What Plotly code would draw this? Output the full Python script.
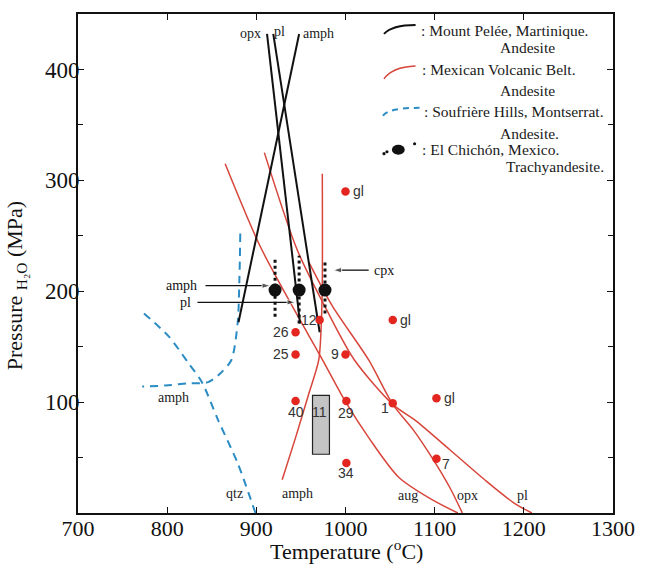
import plotly.graph_objects as go

# ---------------- data ----------------
# Mount Pelée, Martinique (black)
pelee_opx_T = [912, 949]
pelee_opx_P = [432, 171]
pelee_pl_T = [919, 971]
pelee_pl_P = [432, 163]
pelee_amph_T = [948, 880]
pelee_amph_P = [432, 172]

# Mexican Volcanic Belt (red)
mvb_aug_T = [865, 904, 940, 973, 1001, 1026, 1060, 1097, 1126]
mvb_aug_P = [315, 241, 187, 140, 99, 68, 32, 12, 0]
mvb_pl_T = [909, 946, 979, 1010, 1053, 1079, 1117, 1156, 1189, 1209]
mvb_pl_P = [325, 237, 183, 138, 98, 83, 57, 30, 9, 0]
mvb_opx_T = [959, 985, 1026, 1053, 1076, 1097, 1117, 1131]
mvb_opx_P = [226, 187, 138, 98, 75, 50, 23, 0]
mvb_amph_T = [974, 974, 973, 970, 959, 944, 929]
mvb_amph_P = [306, 210, 174, 138, 108, 68, 30]

# Soufrière Hills, Montserrat (blue dashed)
sh_amph_T = [882, 881, 879, 872, 861, 846, 824, 798, 772]
sh_amph_P = [252, 210, 171, 138, 127, 118, 117, 115, 114]
sh_qtz_T = [774, 802, 824, 839, 857, 879, 899]
sh_qtz_P = [180, 159, 135, 118, 84, 45, 0]

# experimental runs (red dots)
exp_T = [1000, 1053, 1102, 971, 944, 944, 1000, 944, 971, 1001, 1053, 1102, 1001]
exp_P = [290, 174, 103.5, 174, 163, 143, 143, 101, 101, 101, 99, 49, 45]
exp_lab = ["gl", "gl", "gl", "12", "26", "25", "9", "40", "11", "29", "1", "7", "34"]

# El Chichón (black dots with dotted bars)
ec_T = [921, 948, 977]
ec_P = [201, 201, 201]
ec_P_low = [177, 171, 180]
ec_P_high = [231, 232, 228]

# grey box
box_T = [963, 982]
box_P = [53, 106]

# arrows to the El Chichón points
arrow_lab = ["amph", "pl", "cpx"]
arrow_tail_T = [843, 834, 1026]
arrow_head_T = [916, 944, 986]
arrow_P = [205, 190, 219]
arrow_text_T = [816, 820, 1043]

# curve labels
curve_lab = ["opx", "pl", "amph", "qtz", "amph", "aug", "opx", "pl", "amph"]
curve_lab_T = [893, 926, 970, 876, 946, 1070, 1137, 1198, 807]
curve_lab_P = [432, 434, 432, 18, 18, 16, 16, 16, 104]

x_ticks = [700, 800, 900, 1000, 1100, 1200, 1300]
y_ticks = [100, 200, 300, 400]

# ---------------- styles ----------------
BLACK = "#111111"
RED = "#d8453b"
DOT_RED = "#e3261f"
BLUE = "#2b8cc4"
SERIF = "Liberation Serif, Times New Roman, serif"
SANS = "Liberation Sans, Arial, sans-serif"

fig = go.Figure()

def line(T, P, color, width, dash=None, shape="linear"):
    fig.add_trace(go.Scatter(x=T, y=P, mode="lines",
                             line=dict(color=color, width=width, dash=dash, shape=shape,
                                       smoothing=0.8),
                             hoverinfo="skip"))

for T, P in [(sh_amph_T, sh_amph_P), (sh_qtz_T, sh_qtz_P)]:
    line(T, P, BLUE, 2, dash="8px,6px", shape="spline")
for T, P in [(mvb_aug_T, mvb_aug_P), (mvb_pl_T, mvb_pl_P),
             (mvb_opx_T, mvb_opx_P), (mvb_amph_T, mvb_amph_P)]:
    line(T, P, RED, 1.5, shape="spline")
for T, P in [(pelee_opx_T, pelee_opx_P), (pelee_pl_T, pelee_pl_P),
             (pelee_amph_T, pelee_amph_P)]:
    line(T, P, BLACK, 2)

# grey box
fig.add_shape(type="rect", xref="x", yref="y", x0=box_T[0], x1=box_T[1],
              y0=box_P[0], y1=box_P[1], fillcolor="#c4c4c4",
              line=dict(color="#222222", width=1.2), layer="above")

# red dots
fig.add_trace(go.Scatter(x=exp_T, y=exp_P, mode="markers",
                         marker=dict(color=DOT_RED, size=8.5, line=dict(width=0)),
                         hoverinfo="skip"))

# El Chichón bars + dots
for t, lo, hi in zip(ec_T, ec_P_low, ec_P_high):
    fig.add_trace(go.Scatter(x=[t, t], y=[lo, hi], mode="lines",
                             line=dict(color=BLACK, width=3, dash="3px,3px"),
                             hoverinfo="skip"))
fig.add_trace(go.Scatter(x=ec_T, y=ec_P, mode="markers",
                         marker=dict(color=BLACK, size=13), hoverinfo="skip"))

# point labels (offsets in pixels)
offsets = {"gl": (13, 0), "12": (-11, 0), "26": (-15, 0), "25": (-15, 0), "9": (-11, 0),
           "40": (0, -11), "11": (0, -11), "29": (0, -12), "1": (-8, -5), "7": (10, -5),
           "34": (0, -10)}
for t, p, lab in zip(exp_T, exp_P, exp_lab):
    dx, dy = offsets[lab]
    fig.add_annotation(x=t, y=p, text=lab, showarrow=False, xshift=dx, yshift=dy,
                       xanchor="center", yanchor="middle",
                       font=dict(family=SANS, size=14, color="#333333"))

# arrows (line + arrow-head marker)
for lab, t0, t1, p, tt in zip(arrow_lab, arrow_tail_T, arrow_head_T, arrow_P, arrow_text_T):
    fig.add_trace(go.Scatter(x=[t0, t1], y=[p, p], mode="lines+markers",
                             line=dict(color=BLACK, width=1.3),
                             marker=dict(symbol="arrow", angleref="previous",
                                         size=[0, 9], color=BLACK),
                             hoverinfo="skip"))
    fig.add_annotation(x=tt, y=p, text=lab, showarrow=False,
                       xanchor="center", yanchor="middle",
                       font=dict(family=SERIF, size=14, color=BLACK))

for lab, t, p in zip(curve_lab, curve_lab_T, curve_lab_P):
    fig.add_annotation(x=t, y=p, text=lab, showarrow=False,
                       xanchor="center", yanchor="middle",
                       font=dict(family=SERIF, size=14, color="#222222"))

# ---------------- legend (drawn manually) ----------------
L, T0, W, H = 78, 13, 542, 500
def px(x):
    return (x - L) / W
def py(y):
    return (T0 + H - y) / H

fig.add_shape(type="path", xref="paper", yref="paper",
              path=f"M {px(388)},{py(33)} Q {px(396)},{py(24)} {px(420)},{py(24)}",
              line=dict(color=BLACK, width=2))
fig.add_shape(type="path", xref="paper", yref="paper",
              path=f"M {px(388)},{py(78)} Q {px(396)},{py(66)} {px(420)},{py(65)}",
              line=dict(color=RED, width=1.5))
fig.add_shape(type="path", xref="paper", yref="paper",
              path=f"M {px(387)},{py(115)} Q {px(392)},{py(107)} {px(424)},{py(107)}",
              line=dict(color=BLUE, width=2, dash="6px,5px"))
fig.add_shape(type="circle", xref="paper", yref="paper",
              x0=px(396), x1=px(409), y0=py(154), y1=py(144),
              fillcolor=BLACK, line=dict(width=0))
for (cx, cy) in [(388, 153), (391, 151), (419, 143)]:
    fig.add_shape(type="circle", xref="paper", yref="paper",
                  x0=px(cx - 1.6), x1=px(cx + 1.6), y0=py(cy + 1.6), y1=py(cy - 1.6),
                  fillcolor=BLACK, line=dict(width=0))

legend_text = [(": Mount Pelée, Martinique.", 423, 30),
               ("Andesite", 503, 47),
               (": Mexican Volcanic Belt.", 424, 69),
               ("Andesite", 503, 90),
               (": Soufrière Hills, Montserrat.", 426, 111),
               ("Andesite.", 504, 133),
               (": El Chichón, Mexico.", 424, 149),
               ("Trachyandesite.", 510, 166)]
for txt, x, y in legend_text:
    fig.add_annotation(xref="paper", yref="paper", x=px(x), y=py(y), text=txt,
                       showarrow=False, xanchor="left", yanchor="middle",
                       font=dict(family=SERIF, size=15.5, color="#1a1a1a"))

# axis titles
fig.add_annotation(xref="paper", yref="paper", x=px(350), y=py(550),
                   text="Temperature (<sup>o</sup>C)", showarrow=False,
                   xanchor="center", yanchor="middle",
                   font=dict(family=SERIF, size=22, color=BLACK))
fig.add_annotation(xref="paper", yref="paper", x=px(16), y=py(285),
                   text="Pressure <sub>H₂O</sub> (MPa)", showarrow=False, textangle=-90,
                   xanchor="center", yanchor="middle",
                   font=dict(family=SERIF, size=22, color=BLACK))

axis_common = dict(showline=True, linecolor=BLACK, linewidth=1.6, mirror="ticks",
                   ticks="inside", ticklen=6, tickwidth=1.3, tickcolor=BLACK,
                   showgrid=False, zeroline=False)
fig.update_xaxes(range=[700, 1300], tickmode="array", tickvals=x_ticks,
                 ticklabelstandoff=-5,
                 tickfont=dict(family=SERIF, size=22, color=BLACK), **axis_common)
fig.update_yaxes(range=[0, 450], tickmode="array", tickvals=y_ticks,
                 ticklabelstandoff=-8,
                 tickfont=dict(family=SERIF, size=23, color=BLACK),
                 minor=dict(ticks="inside", ticklen=5, tickwidth=1.3, tickcolor=BLACK,
                            dtick=50, tick0=0, showgrid=False),
                 **axis_common)

fig.update_layout(width=647, height=565, showlegend=False,
                  margin=dict(l=78, r=27, t=13, b=52),
                  paper_bgcolor="white", plot_bgcolor="white")

fig.write_html("out.html")
